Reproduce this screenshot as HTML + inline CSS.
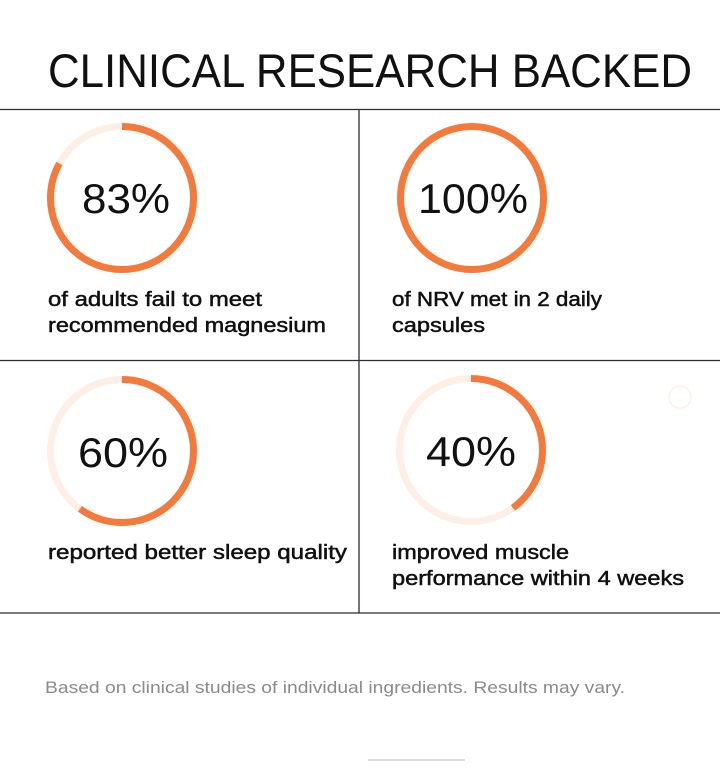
<!DOCTYPE html>
<html><head><meta charset="utf-8"><style>
html,body{margin:0;padding:0;background:#fff;}
svg{display:block;}
text{font-family:"Liberation Sans",sans-serif;}
</style></head><body>
<svg width="720" height="768" viewBox="0 0 720 768" xmlns="http://www.w3.org/2000/svg">
<rect width="720" height="768" fill="#fff"/>
<text x="48" y="87" font-size="47" fill="#111" textLength="644" lengthAdjust="spacingAndGlyphs">CLINICAL RESEARCH BACKED</text>
<g stroke="#2b2b3d" stroke-width="1.3">
<line x1="0" y1="109.5" x2="720" y2="109.5"/>
<line x1="0" y1="360.5" x2="720" y2="360.5"/>
<line x1="0" y1="613" x2="720" y2="613"/>
<line x1="359" y1="109.5" x2="359" y2="613"/>
</g>
<g fill="none" stroke-width="7">
<circle cx="122" cy="198" r="71.5" stroke="#fdeee6"/>
<circle cx="122" cy="198" r="71.5" stroke="#f47a3c" stroke-dasharray="372.9 449.2" transform="rotate(-90 122 198)"/>
<circle cx="472" cy="198" r="71.5" stroke="#f47a3c"/>
<circle cx="122" cy="451" r="71.5" stroke="#fdeee6"/>
<circle cx="122" cy="451" r="71.5" stroke="#f47a3c" stroke-dasharray="269.5 449.2" transform="rotate(-90 122 451)"/>
<circle cx="471" cy="450" r="71.5" stroke="#fdeee6"/>
<circle cx="471" cy="450" r="71.5" stroke="#f47a3c" stroke-dasharray="179.7 449.2" transform="rotate(-90 471 450)"/>
</g>
<circle cx="680" cy="397" r="11" fill="none" stroke="#fdeee6" stroke-width="1.5"/>
<g font-size="42" fill="#111" text-anchor="middle">
<text x="126" y="213" textLength="88" lengthAdjust="spacingAndGlyphs">83%</text>
<text x="473" y="213" textLength="110" lengthAdjust="spacingAndGlyphs">100%</text>
<text x="123" y="467" textLength="90" lengthAdjust="spacingAndGlyphs">60%</text>
<text x="471" y="466" textLength="90" lengthAdjust="spacingAndGlyphs">40%</text>
</g>
<g font-size="20" fill="#111" stroke="#111" stroke-width="0.5">
<text x="48" y="306" textLength="214" lengthAdjust="spacingAndGlyphs">of adults fail to meet</text>
<text x="48" y="332" textLength="278" lengthAdjust="spacingAndGlyphs">recommended magnesium</text>
<text x="392" y="306" textLength="210" lengthAdjust="spacingAndGlyphs">of NRV met in 2 daily</text>
<text x="392" y="332" textLength="93" lengthAdjust="spacingAndGlyphs">capsules</text>
<text x="48" y="559" textLength="299" lengthAdjust="spacingAndGlyphs">reported better sleep quality</text>
<text x="392" y="559" textLength="177" lengthAdjust="spacingAndGlyphs">improved muscle</text>
<text x="392" y="585" textLength="292" lengthAdjust="spacingAndGlyphs">performance within 4 weeks</text>
</g>
<text x="45" y="693" font-size="17" fill="#8a8a8a" textLength="580" lengthAdjust="spacingAndGlyphs">Based on clinical studies of individual ingredients. Results may vary.</text>
<line x1="368" y1="760" x2="465" y2="760" stroke="#c8c8c8" stroke-width="1.2"/>
</svg>
</body></html>
